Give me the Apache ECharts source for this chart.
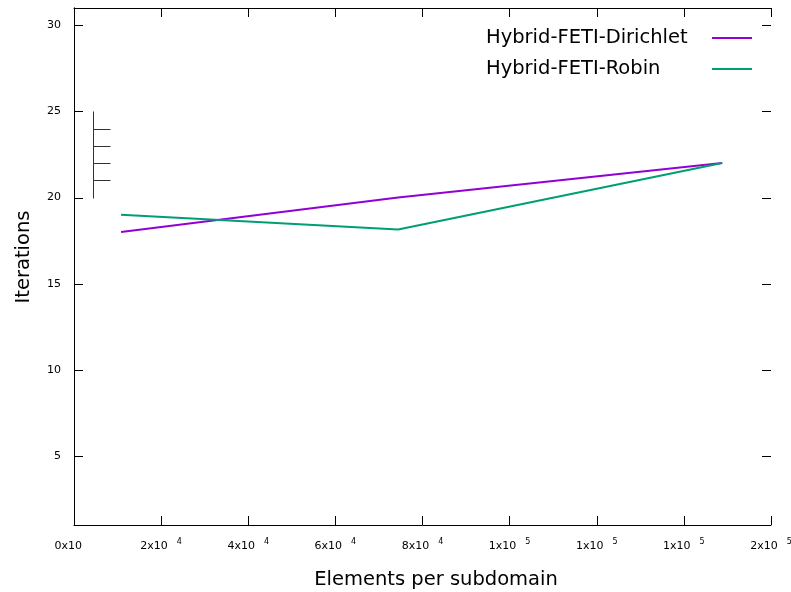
<!DOCTYPE html>
<html><head><meta charset="utf-8">
<script src="https://cdn.jsdelivr.net/npm/echarts@6/dist/echarts.min.js"></script>
<style>html,body{margin:0;padding:0;background:#fff}#c{width:791px;height:592px}</style>
</head><body><div id="c"></div>
<script>
const elements = [10800, 74400, 148800];
const dirichlet = [18, 20, 22];
const robin = [19, 18.15, 22];
const seriesNames = ['Hybrid-FETI-Dirichlet', 'Hybrid-FETI-Robin'];
const yTicks = [5, 10, 15, 20, 25, 30];
const xTickLabels = {0:['0x10',''],20000:['2x10','4'],40000:['4x10','4'],60000:['6x10','4'],80000:['8x10','4'],100000:['1x10','5'],120000:['1x10','5'],140000:['1x10','5'],160000:['2x10','5']};
// stray key artifact (vertical bar with ticks) in data coordinates
const artifactX = [4360, 8260];
const artifactY = [20, 25];
const artifactTicks = [21, 22, 23, 24];

const X_MIN = 0, X_MAX = 160000, Y_MIN = 1, Y_MAX = 31;
const FONT = 'DejaVu Sans';
const chart = echarts.init(document.getElementById('c'));
const segs = [[artifactX[0], artifactY[0], artifactX[0], artifactY[1]]];
artifactTicks.forEach(t => segs.push([artifactX[0], t, artifactX[1], t]));

const axisLineStyle = {show: true, lineStyle: {color: '#000', width: 1}};
chart.setOption({
  animation: false,
  textStyle: {fontFamily: FONT},
  grid: {left: 74, right: 20, top: 8, bottom: 67, containLabel: false, outerBoundsMode: 'none'},
  legend: {
    orient: 'vertical', left: 481, top: 23, align: 'right', itemGap: 11,
    itemWidth: 40, itemHeight: 20, icon: 'path://M0,9 L40,9 L40,11 L0,11 Z',
    formatter: n => '{t|' + n + '}',
    textStyle: {fontSize: 19.5, color: '#000', fontFamily: FONT,
      rich: {t: {fontSize: 19.5, color: '#000', fontFamily: FONT, width: 221, align: 'left'}}},
    data: seriesNames
  },
  xAxis: [{
    type: 'value', min: X_MIN, max: X_MAX, interval: 20000, position: 'bottom',
    name: 'Elements per subdomain', nameLocation: 'middle', nameGap: 45,
    nameTextStyle: {fontSize: 19.5, color: '#000', fontFamily: FONT, padding: [0, 0, 0, 27]},
    axisLine: axisLineStyle, splitLine: {show: false},
    axisTick: {inside: true, length: 9, lineStyle: {color: '#000'}},
    axisLabel: {
      margin: 9, color: '#000', showMaxLabel: true, showMinLabel: true,
      formatter: v => { const l = xTickLabels[v]; return l ? '{b|' + l[0] + '}{s|' + (l[1] || ' ') + '}' : ''; },
      rich: {
        b: {fontSize: 11, fontFamily: FONT, color: '#000', lineHeight: 18, verticalAlign: 'bottom'},
        s: {fontSize: 8, fontFamily: FONT, color: '#000', padding: [0, 0, 6, 9], lineHeight: 18, verticalAlign: 'bottom'}
      }
    }
  }, {
    type: 'value', min: X_MIN, max: X_MAX, interval: 20000, position: 'top',
    axisLine: axisLineStyle, splitLine: {show: false},
    axisTick: {inside: true, length: 9, lineStyle: {color: '#000'}}, axisLabel: {show: false}
  }],
  yAxis: [{
    type: 'value', min: Y_MIN, max: Y_MAX, position: 'left',
    name: 'Iterations', nameLocation: 'middle', nameGap: 40,
    nameTextStyle: {fontSize: 19.5, color: '#000', fontFamily: FONT, padding: [0, 0, 0, 19]},
    axisLine: axisLineStyle, splitLine: {show: false},
    axisTick: {show: false},
    axisLabel: {customValues: yTicks, margin: 13, fontSize: 11, color: '#000', fontFamily: FONT}
  }, {
    type: 'value', min: Y_MIN, max: Y_MAX, position: 'right',
    axisLine: axisLineStyle, splitLine: {show: false},
    axisTick: {show: false}, axisLabel: {show: false}
  }],
  series: [{
    name: seriesNames[0], type: 'line', symbol: 'none', color: '#9400d3',
    lineStyle: {width: 2, color: '#9400d3'},
    data: elements.map((x, i) => [x, dirichlet[i]])
  }, {
    name: seriesNames[1], type: 'line', symbol: 'none', color: '#009e73',
    lineStyle: {width: 2, color: '#009e73'},
    data: elements.map((x, i) => [x, robin[i]])
  }, {
    type: 'custom', silent: true, legendHoverLink: false,
    data: segs,
    renderItem: (params, api) => {
      const p1 = api.coord([api.value(0), api.value(1)]);
      const p2 = api.coord([api.value(2), api.value(3)]);
      return {type: 'line', shape: {x1: Math.round(p1[0]) + 0.5, y1: Math.round(p1[1]) + 0.5, x2: Math.round(p2[0]) + 0.5, y2: Math.round(p2[1]) + 0.5},
              style: {stroke: '#333', lineWidth: 1}};
    }
  }, {
    // y-axis ticks, inside on both left and right borders
    type: 'custom', silent: true, clip: false,
    data: yTicks.map(v => [X_MIN, v]),
    renderItem: (params, api) => {
      const v = api.value(1);
      const cs = params.coordSys;
      const p = api.coord([X_MIN, v]);
      const y = Math.round(p[1]) + 0.5;
      const xl = cs.x, xr = cs.x + cs.width;
      return {type: 'group', children: [
        {type: 'line', shape: {x1: xl, y1: y, x2: xl + 9, y2: y}, style: {stroke: '#000', lineWidth: 1}},
        {type: 'line', shape: {x1: xr - 9, y1: y, x2: xr, y2: y}, style: {stroke: '#000', lineWidth: 1}}
      ]};
    }
  }]
});
</script></body></html>
